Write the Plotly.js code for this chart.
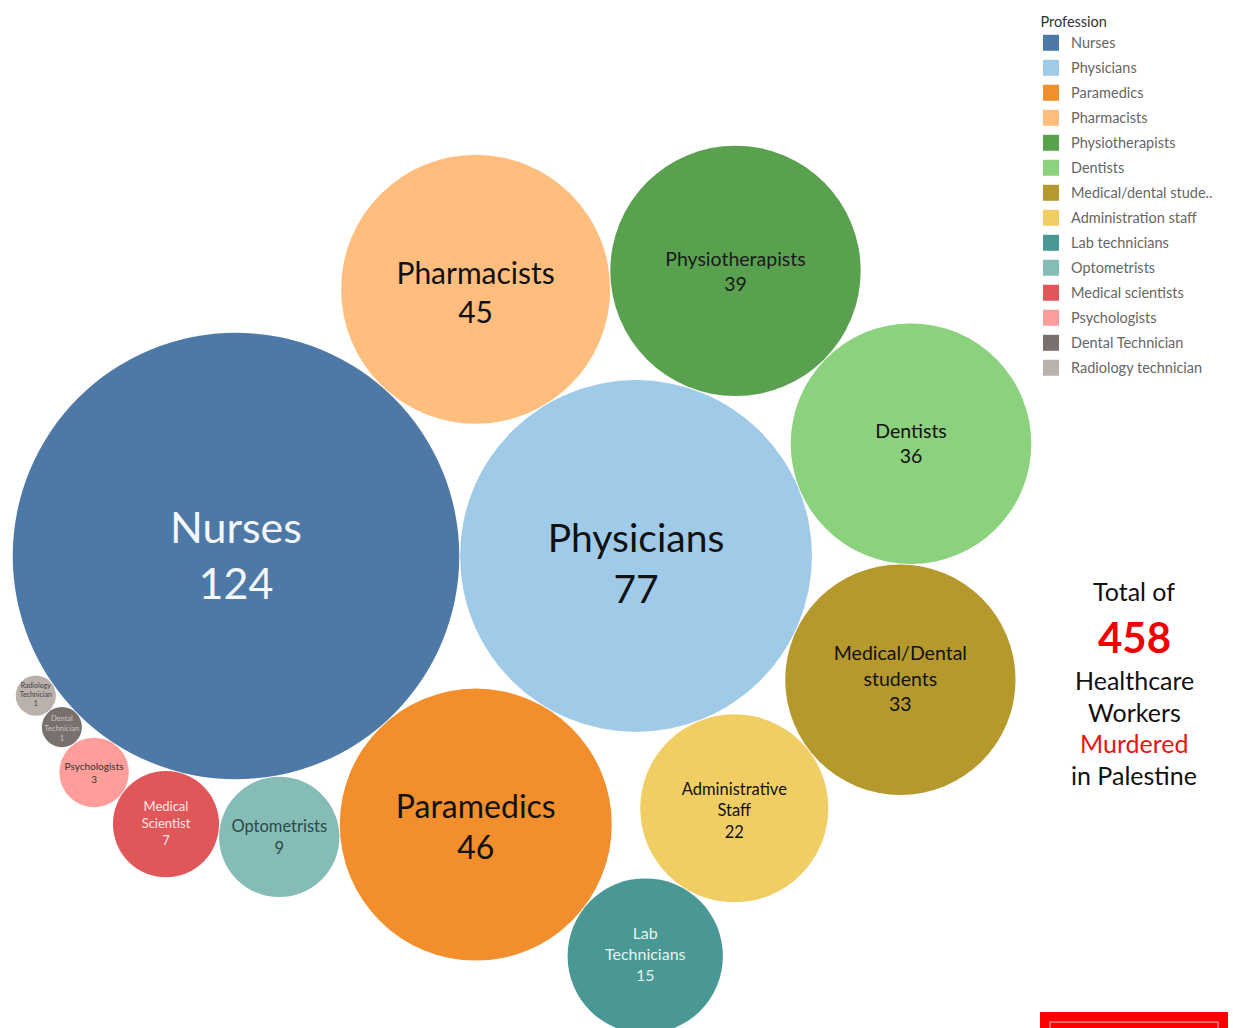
<!DOCTYPE html>
<html>
<head>
<meta charset="utf-8">
<script src="https://cdn.plot.ly/plotly-3.0.1.min.js"></script>
<style>html,body{margin:0;padding:0;background:#fff;}#chart{width:1233px;height:1028px;}</style>
</head>
<body>
<div id="chart"></div>
<script>
// ---- data ----
const professions = ['Nurses','Physicians','Paramedics','Pharmacists','Physiotherapists','Dentists','Medical/dental students','Administration staff','Lab technicians','Optometrists','Medical scientists','Psychologists','Dental Technician','Radiology technician'];
const counts = [124, 77, 46, 45, 39, 36, 33, 22, 15, 9, 7, 3, 1, 1];
const legendLabels = ['Nurses','Physicians','Paramedics','Pharmacists','Physiotherapists','Dentists','Medical/dental stude..','Administration staff','Lab technicians','Optometrists','Medical scientists','Psychologists','Dental Technician','Radiology technician'];
const bubbleNames = ['Nurses','Physicians','Paramedics','Pharmacists','Physiotherapists','Dentists','Medical/Dental<br>students','Administrative<br>Staff','Lab<br>Technicians','Optometrists','Medical<br>Scientist','Psychologists','Dental<br>Technician','Radiology<br>Technician'];
const totalLabel = 'Total of';

// ---- styles ----
const colors = ['#4E79A7','#A0CBE8','#F28E2B','#FFBE7D','#59A14F','#8CD17D','#B6992D','#F1CE63','#499894','#86BCB6','#E15759','#FF9D9A','#79706E','#BAB0AC'];
const labelSizes = [43, 39, 32, 30, 19.5, 19.5, 19.5, 16.5, 16, 16.5, 13, 10, 7.5, 7];
const labelColors = ['#f4f7fb','#111111','#111111','#111111','#1a1a1a','#111111','#111111','#111111','#e6f2f0','#2c4a48','#fde8e8','#333333','#c8c4c2','#444444'];
const labelShift = [4, 12, 6, 7, 3, 2, 1, 4, 0, 2, 1, 2, 2, 0];   // px, downward nudge of labels

// ---- packing: each bubble tangent to two already placed bubbles ----
const k = 20.05;      // px radius per sqrt(count)
const gap = 0.8;
const radii = counts.map(v => k * Math.sqrt(v));
const order = [
  {i:0}, {i:1, right:0},
  {i:3, a:0, b:1, s:-1}, {i:2, a:0, b:1, s:1},
  {i:4, a:3, b:1, s:-1}, {i:5, a:4, b:1, s:-1}, {i:6, a:5, b:1, s:-1},
  {i:7, a:6, b:1, s:-1}, {i:8, a:7, b:2, s:-1},
  {i:9, a:2, b:0, s:-1}, {i:10, a:9, b:0, s:-1}, {i:11, a:10, b:0, s:-1},
  {i:12, a:11, b:0, s:-1}, {i:13, a:12, b:0, s:-1}
];
const cx = new Array(counts.length), cy = new Array(counts.length);
const origin = [236, 556];
order.forEach(o => {
  const r = radii[o.i];
  if (o.right === undefined && o.a === undefined) { cx[o.i] = origin[0]; cy[o.i] = origin[1]; return; }
  if (o.right !== undefined) { cx[o.i] = cx[o.right] + radii[o.right] + r + gap; cy[o.i] = cy[o.right]; return; }
  const ax = cx[o.a], ay = cy[o.a], bx = cx[o.b], by = cy[o.b];
  const da = radii[o.a] + r + gap, db = radii[o.b] + r + gap;
  const d = Math.hypot(bx - ax, by - ay);
  const ux = (bx - ax) / d, uy = (by - ay) / d;
  const along = (da*da - db*db + d*d) / (2*d);
  const h = Math.sqrt(Math.max(0, da*da - along*along));
  cx[o.i] = ax + along*ux + o.s*h*(-uy);
  cy[o.i] = ay + along*uy + o.s*h*(ux);
});

const font = 'Lato, "Open Sans", sans-serif';
const traces = [{
  type: 'scatter', mode: 'markers',
  x: cx, y: cy,
  customdata: professions,
  marker: {size: counts, sizemode: 'area', sizeref: 1/(2*k*k), color: colors, line: {width: 0}, opacity: 1},
  hovertemplate: '%{customdata}: %{marker.size}<extra></extra>',
  showlegend: false, cliponaxis: false
}, {
  type: 'scatter', mode: 'text',
  x: cx, y: cy.map((v, i) => v + labelShift[i]),
  text: bubbleNames.map((n, i) => n + '<br>' + counts[i]),
  textposition: 'middle center',
  textfont: {family: font, size: labelSizes, color: labelColors},
  hoverinfo: 'skip', showlegend: false, cliponaxis: false
}];
legendLabels.forEach((lab, i) => {
  traces.push({
    type: 'scatter', mode: 'markers', x: [null], y: [null], name: lab,
    legendgroup: 'g' + i,
    marker: {symbol: 'square', size: 16, color: colors[i]}
  });
});

const rightLines = [
  {t: totalLabel, y: 591, size: 25, color: '#111', bold: false},
  {t: String(counts.reduce((a, b) => a + b, 0)), y: 637, size: 42, color: '#f00000', bold: true},
  {t: 'Healthcare', y: 680, size: 25, color: '#111', bold: false},
  {t: 'Workers', y: 712, size: 25, color: '#111', bold: false},
  {t: 'Murdered', y: 743, size: 25, color: '#ee1111', bold: false},
  {t: 'in Palestine', y: 775, size: 25, color: '#111', bold: false}
];
const annotations = rightLines.map(l => ({
  x: 1134, y: l.y, xref: 'x', yref: 'y', showarrow: false,
  text: l.bold ? '<b>' + l.t + '</b>' : l.t,
  font: {family: font, size: l.size, color: l.color},
  xanchor: 'center', yanchor: 'middle'
}));

const layout = {
  width: 1233, height: 1028,
  margin: {l: 0, r: 0, t: 0, b: 0},
  paper_bgcolor: '#fff', plot_bgcolor: '#fff',
  xaxis: {range: [0, 1233], visible: false, fixedrange: true},
  yaxis: {range: [1028, 0], visible: false, fixedrange: true},
  showlegend: true,
  legend: {
    x: 1031/1233, y: 1 - 8/1028, xanchor: 'left', yanchor: 'top',
    title: {text: '&nbsp;&nbsp;Profession', font: {family: font, size: 14.5, color: '#333'}},
    font: {family: font, size: 14.5, color: '#666'},
    tracegroupgap: 3.15, traceorder: 'grouped', bgcolor: 'rgba(0,0,0,0)'
  },
  annotations: annotations,
  shapes: [
    {type: 'rect', xref: 'x', yref: 'y', x0: 1040, x1: 1228, y0: 1012, y1: 1040, fillcolor: '#ff0000', line: {width: 0}},
    {type: 'rect', xref: 'x', yref: 'y', x0: 1050, x1: 1218, y0: 1022, y1: 1045, fillcolor: 'rgba(0,0,0,0)', line: {width: 1.5, color: '#ff8080'}}
  ]
};
Plotly.newPlot('chart', traces, layout, {displayModeBar: false, staticPlot: true});
</script>
</body>
</html>
